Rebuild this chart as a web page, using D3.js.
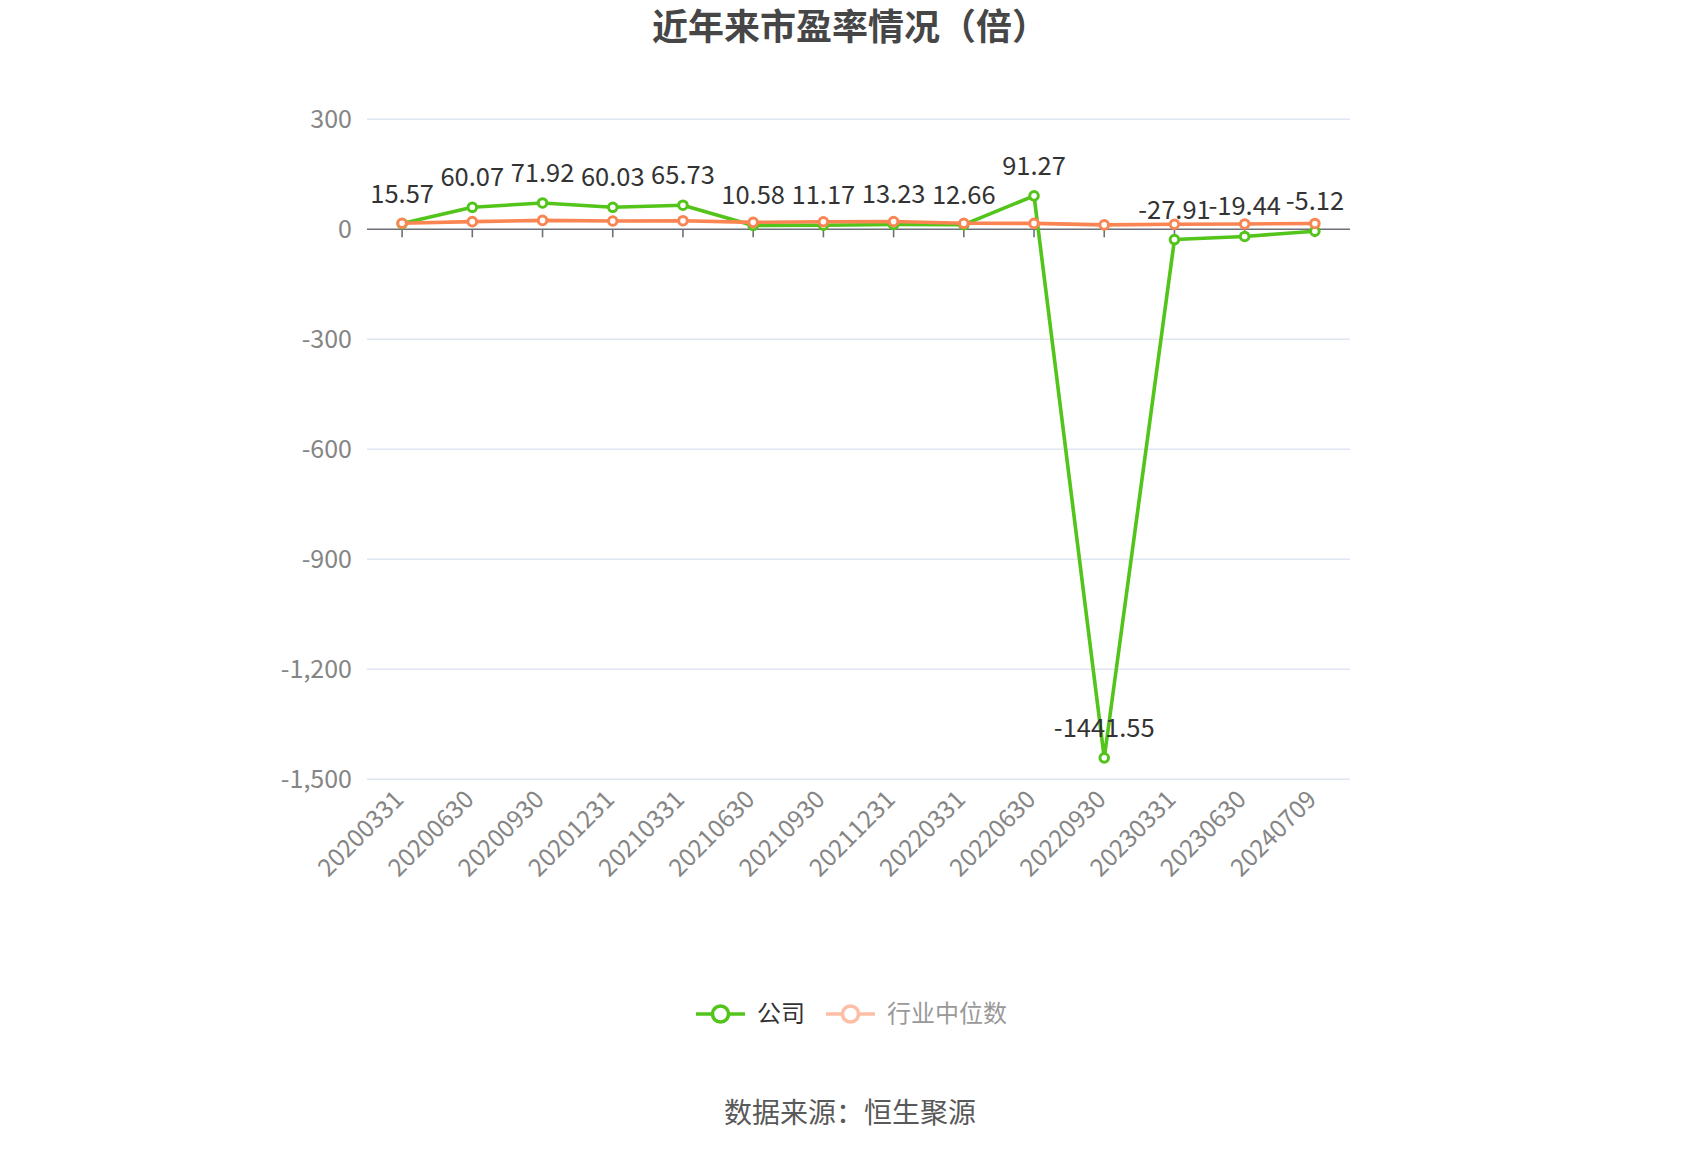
<!DOCTYPE html>
<html>
<head>
<meta charset="utf-8">
<script src="https://cdn.jsdelivr.net/npm/d3@7"></script>
<style>
  body { margin: 0; background: #fff; }
  text { font-family: "Noto Sans CJK SC", "Noto Sans", sans-serif; }
</style>
</head>
<body>
<svg id="chart" width="1700" height="1150"></svg>
<script>
// chart data
var dates = ["20200331", "20200630", "20200930", "20201231", "20210331", "20210630", "20210930",
             "20211231", "20220331", "20220630", "20220930", "20230331", "20230630", "20240709"];
var company = [15.57, 60.07, 71.92, 60.03, 65.73, 10.58, 11.17, 13.23, 12.66, 91.27, -1441.55, -27.91, -19.44, -5.12];
var industry = [16.5, 20.8, 24.3, 22.6, 23.4, 18.9, 20.6, 21.3, 16.4, 16.1, 12.0, 13.8, 14.6, 15.9];
var yTicks = [300, 0, -300, -600, -900, -1200, -1500];
var seriesNames = ["公司", "行业中位数"];

var green = "#52c41a", orange = "#fa8553";

var svg = d3.select("#chart");

var x = d3.scaleBand().domain(dates).range([367, 1350]);
var y = d3.scaleLinear().domain([-1500, 300]).range([779.3, 119.3]);
function cx(d) { return x(d) + x.bandwidth() / 2; }

var fmt = d3.formatLocale({ decimal: ".", thousands: ",", grouping: [3], currency: ["", ""], minus: "-" }).format(",");

// title
svg.append("text")
    .attr("x", 850).attr("y", 40)
    .attr("text-anchor", "middle")
    .attr("font-size", 36).attr("font-weight", "bold")
    .attr("fill", "#464646")
    .text("近年来市盈率情况（倍）");

// grid lines + y labels
svg.append("g").selectAll("line")
    .data(yTicks.filter(function(t){ return t !== 0; }))
    .enter().append("line")
    .attr("x1", 367).attr("x2", 1350)
    .attr("y1", function(d){ return y(d); })
    .attr("y2", function(d){ return y(d); })
    .attr("stroke", "#e0e6f1").attr("stroke-width", 1.5);

svg.append("g").selectAll("text")
    .data(yTicks)
    .enter().append("text")
    .attr("x", 352)
    .attr("y", function(d){ return y(d); })
    .attr("dy", "0.35em")
    .attr("text-anchor", "end")
    .attr("font-size", 25)
    .attr("fill", "#858585")
    .text(function(d){ return fmt(d); });

// x axis on zero
svg.append("line")
    .attr("x1", 367).attr("x2", 1350)
    .attr("y1", y(0)).attr("y2", y(0))
    .attr("stroke", "#6e7079").attr("stroke-width", 1.6);

svg.append("g").selectAll("line")
    .data(dates)
    .enter().append("line")
    .attr("x1", cx).attr("x2", cx)
    .attr("y1", y(0)).attr("y2", y(0) + 8)
    .attr("stroke", "#6e7079").attr("stroke-width", 1.6);

svg.append("g").selectAll("text")
    .data(dates)
    .enter().append("text")
    .attr("transform", function(d){ return "translate(" + (cx(d) + 3) + ",801) rotate(-45)"; })
    .attr("text-anchor", "end")
    .attr("font-size", 24.5)
    .attr("fill", "#858585")
    .text(function(d){ return d; });

// lines
var line = d3.line()
    .x(function(d, i){ return cx(dates[i]); })
    .y(function(d){ return y(d); });

function drawSeries(vals, color) {
    svg.append("path")
        .datum(vals)
        .attr("d", line)
        .attr("fill", "none")
        .attr("stroke", color)
        .attr("stroke-width", 3.6)
        .attr("stroke-linejoin", "round");
    svg.append("g").selectAll("circle")
        .data(vals)
        .enter().append("circle")
        .attr("cx", function(d, i){ return cx(dates[i]); })
        .attr("cy", function(d){ return y(d); })
        .attr("r", 4.3)
        .attr("fill", "#fff")
        .attr("stroke", color)
        .attr("stroke-width", 3);
}
drawSeries(company, green);
drawSeries(industry, orange);

// company value labels
svg.append("g").selectAll("text")
    .data(company)
    .enter().append("text")
    .attr("x", function(d, i){ return cx(dates[i]); })
    .attr("y", function(d){ return y(d) - 21; })
    .attr("text-anchor", "middle")
    .attr("font-size", 25.5)
    .attr("fill", "#333")
    .text(function(d){ return d.toFixed(2); });

// legend
var legend = [
    { name: seriesNames[0], x: 696, stroke: green, text: "#333" },
    { name: seriesNames[1], x: 826, stroke: "#fdbea5", text: "#999" }
];
var lg = svg.append("g").selectAll("g")
    .data(legend)
    .enter().append("g")
    .attr("transform", function(d){ return "translate(" + d.x + ",1014)"; });
lg.append("line")
    .attr("x1", 0).attr("x2", 49)
    .attr("stroke", function(d){ return d.stroke; })
    .attr("stroke-width", 3.5);
lg.append("circle")
    .attr("cx", 24.5).attr("r", 8)
    .attr("fill", "#fff")
    .attr("stroke", function(d){ return d.stroke; })
    .attr("stroke-width", 3.5);
lg.append("text")
    .attr("x", 61).attr("y", 8)
    .attr("font-size", 24)
    .attr("fill", function(d){ return d.text; })
    .text(function(d){ return d.name; });

// source
svg.append("text")
    .attr("x", 850).attr("y", 1123)
    .attr("text-anchor", "middle")
    .attr("font-size", 28)
    .attr("fill", "#595959")
    .text("数据来源：恒生聚源");
</script>
</body>
</html>
